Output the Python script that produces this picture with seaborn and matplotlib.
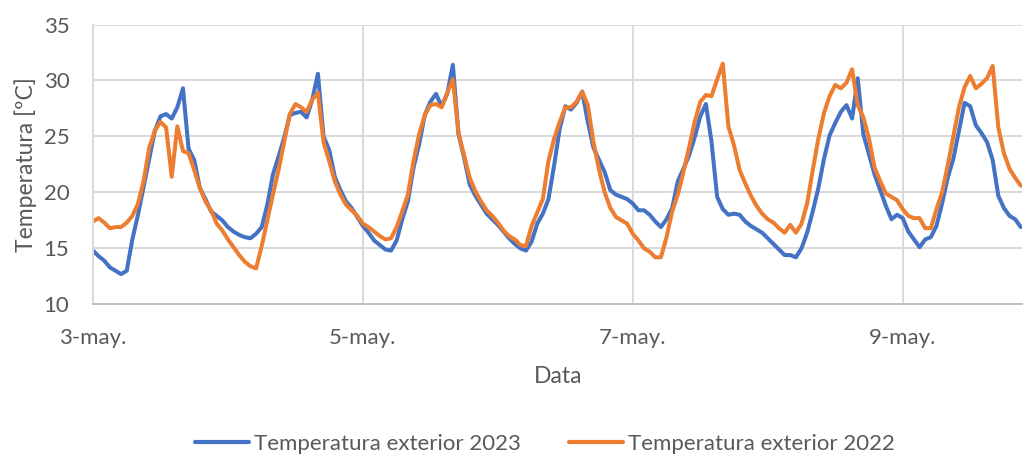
import numpy as np
import pandas as pd
import matplotlib
matplotlib.use("Agg")
import matplotlib.pyplot as plt
import matplotlib.dates as mdates
import seaborn as sns

# hourly readings starting 3 May 00:00
temp_2023 = [
    14.8, 14.3, 13.9, 13.3, 13.0, 12.7, 13.0, 15.8, 18.0, 20.5, 23.0, 25.5,
    26.8, 27.0, 26.6, 27.6, 29.3, 23.9, 22.9, 20.4, 19.4, 18.3, 17.9, 17.5,
    16.9, 16.5, 16.2, 16.0, 15.9, 16.3, 16.9, 18.9, 21.6, 23.2, 24.9, 26.9,
    27.1, 27.2, 26.7, 28.3, 30.6, 25.0, 23.8, 21.4, 20.2, 19.2, 18.6, 17.8,
    17.0, 16.4, 15.7, 15.3, 14.9, 14.8, 15.7, 17.6, 19.2, 22.2, 24.3, 26.9,
    28.1, 28.8, 27.7, 28.8, 31.4, 25.2, 23.1, 20.7, 19.7, 18.9, 18.1, 17.6,
    17.1, 16.5, 15.9, 15.4, 15.0, 14.8, 15.6, 17.2, 18.1, 19.4, 22.4, 25.7,
    27.7, 27.4, 28.0, 29.0, 26.3, 24.0, 22.9, 21.8, 20.2, 19.8, 19.6, 19.4,
    19.0, 18.4, 18.4, 18.0, 17.4, 16.9, 17.6, 18.6, 21.0, 22.1, 23.3, 24.9,
    26.8, 27.9, 24.5, 19.6, 18.5, 18.0, 18.1, 18.0, 17.4, 17.0, 16.7, 16.4,
    15.9, 15.4, 14.9, 14.4, 14.4, 14.2, 15.0, 16.4, 18.3, 20.4, 23.0, 25.1,
    26.2, 27.2, 27.8, 26.6, 30.2, 25.2, 23.4, 21.6, 20.2, 18.8, 17.6, 18.0,
    17.7, 16.5, 15.8, 15.1, 15.8, 16.0, 17.0, 19.0, 21.3, 23.0, 25.5, 28.0,
    27.7, 26.0, 25.3, 24.5, 22.9, 19.7, 18.6, 17.9, 17.6, 16.9,
]
temp_2022 = [
    17.4, 17.7, 17.3, 16.8, 16.9, 16.9, 17.3, 17.9, 19.0, 21.0, 24.0, 25.5,
    26.3, 25.8, 21.4, 25.9, 23.7, 23.5, 22.0, 20.4, 19.2, 18.4, 17.2, 16.6,
    15.8, 15.1, 14.4, 13.8, 13.4, 13.2, 15.2, 17.5, 19.8, 22.0, 24.5, 27.0,
    27.9, 27.6, 27.2, 28.3, 28.9, 24.5, 22.8, 21.0, 19.8, 18.9, 18.4, 17.9,
    17.2, 16.9, 16.5, 16.1, 15.8, 15.9, 16.9, 18.3, 19.8, 22.8, 25.2, 26.9,
    27.8, 27.9, 27.6, 28.9, 30.1, 25.3, 23.3, 21.3, 20.1, 19.2, 18.4, 17.9,
    17.3, 16.6, 16.1, 15.8, 15.3, 15.2, 17.0, 18.2, 19.4, 22.8, 24.8, 26.3,
    27.6, 27.6, 28.1, 29.0, 27.8, 24.5, 22.0, 20.0, 18.6, 17.8, 17.5, 17.2,
    16.3, 15.7, 15.0, 14.7, 14.2, 14.2, 16.0, 18.3, 19.8, 21.8, 24.0, 26.3,
    28.1, 28.7, 28.6, 30.1, 31.5, 25.9, 24.2, 22.0, 20.8, 19.7, 18.8, 18.1,
    17.6, 17.3, 16.8, 16.4, 17.1, 16.4, 17.2, 19.0, 22.0, 24.8, 27.1, 28.6,
    29.6, 29.3, 29.8, 31.0, 27.8, 26.7, 24.8, 22.2, 21.0, 19.9, 19.6, 19.3,
    18.5, 17.9, 17.7, 17.7, 16.8, 16.8, 18.5, 20.0, 22.4, 25.0, 27.6, 29.4,
    30.4, 29.3, 29.7, 30.2, 31.3, 25.8, 23.5, 22.1, 21.3, 20.6,
]
series_names = ["Temperatura exterior 2023", "Temperatura exterior 2022"]
series_colors = ["#4472C4", "#ED7D31"]
y_ticks = [10, 15, 20, 25, 30, 35]

start = pd.Timestamp("2023-05-03 00:00")
t23 = start + pd.to_timedelta(np.arange(len(temp_2023)), unit="h")
t22 = start + pd.to_timedelta(np.arange(len(temp_2022)), unit="h")
df = pd.concat([
    pd.DataFrame({"Data": t23, "Temperatura": temp_2023, "Serie": series_names[0]}),
    pd.DataFrame({"Data": t22, "Temperatura": temp_2022, "Serie": series_names[1]}),
], ignore_index=True)

sns.set_theme(style="white")
plt.rcParams["font.family"] = ["Lato", "DejaVu Sans"]

fig = plt.figure(figsize=(10.23, 4.55), dpi=100)
ax = fig.add_axes([0.0909, 0.3312, 0.9086, 0.6149])

sns.lineplot(data=df, x="Data", y="Temperatura", hue="Serie",
             palette=dict(zip(series_names, series_colors)),
             linewidth=2.9, ax=ax, legend=False, sort=False)

ax.set_ylim(10, 35)
ax.set_yticks(y_ticks)
ax.set_xlim(start, start + pd.Timedelta(hours=165.3))
ax.xaxis.set_major_locator(mdates.DayLocator(bymonthday=[3, 5, 7, 9]))
ax.xaxis.set_major_formatter(matplotlib.ticker.FuncFormatter(
    lambda v, p: f"{mdates.num2date(v).day}-may."))

grid_c = "#D9D9D9"
ax.grid(True, axis="both", color=grid_c, linewidth=1.4)
ax.set_axisbelow(True)
for s in ["top", "right"]:
    ax.spines[s].set_visible(False)
ax.spines["left"].set_color(grid_c)
ax.spines["left"].set_linewidth(1.4)
ax.spines["bottom"].set_color("#BFBFBF")
ax.spines["bottom"].set_linewidth(1.4)

txt_c = "#595959"
fs = 16
ax.tick_params(axis="both", length=0, labelsize=fs, labelcolor=txt_c)
ax.tick_params(axis="y", pad=17)
ax.tick_params(axis="x", pad=17)
ax.set_xlabel("Data", fontsize=fs + 0.5, color=txt_c, labelpad=13)
ax.set_ylabel("Temperatura [ºC]", fontsize=fs + 0.5, color=txt_c, labelpad=5)

handles = [matplotlib.lines.Line2D([], [], color=c, linewidth=3) for c in series_colors]
fig.legend(handles, series_names, loc="center", bbox_to_anchor=(545 / 1023, 1 - 444 / 455),
           ncol=2, frameon=False, fontsize=fs, labelcolor=txt_c,
           handlelength=2.4, handletextpad=0.22, columnspacing=2.2)

fig.savefig("out.png", dpi=100)
